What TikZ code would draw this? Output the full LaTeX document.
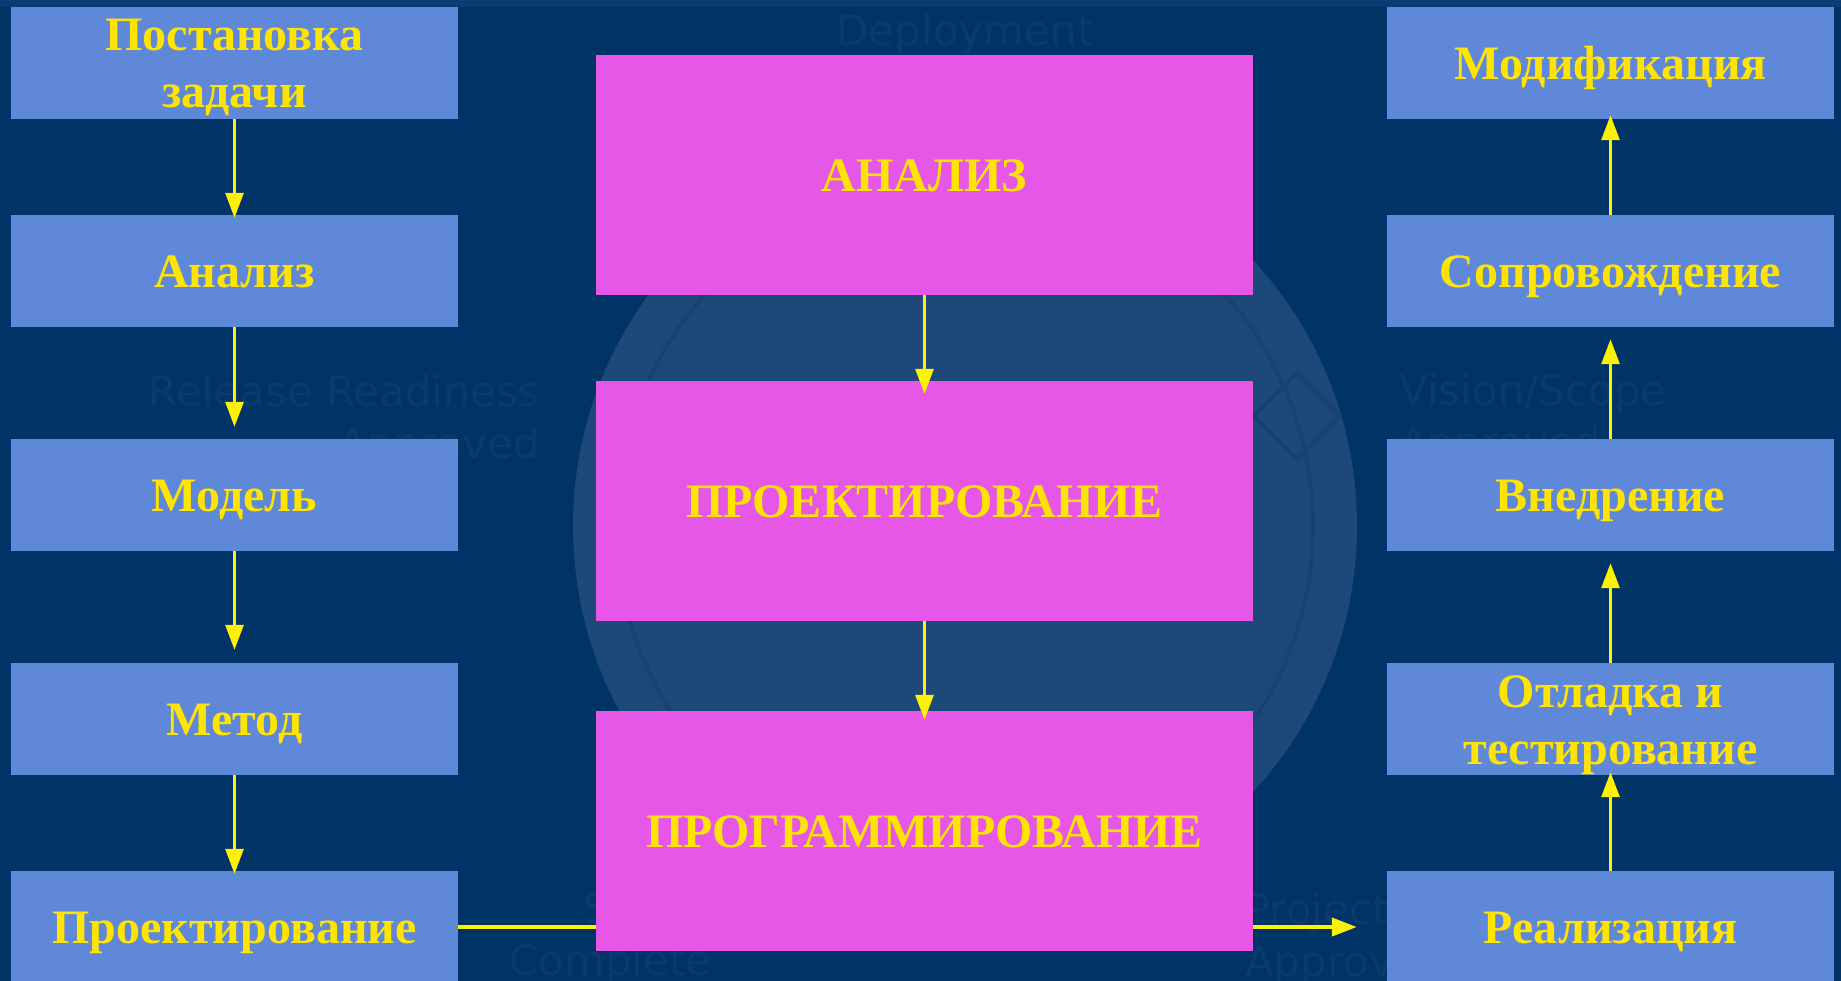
\documentclass[tikz,border=0pt]{standalone}
\usepackage{fontspec}
\setmainfont{Liberation Serif}
\newfontfamily\milestonefont{DejaVu Sans}
\usetikzlibrary{arrows.meta}

\definecolor{slidebg}{RGB}{0,51,102}
\definecolor{slidetop}{RGB}{12,60,116}
\definecolor{wheelfill}{RGB}{29,72,122}
\definecolor{wheelline}{RGB}{24,66,115}
\definecolor{milestone}{RGB}{13,58,108}
\definecolor{stagefill}{RGB}{96,136,216}
\definecolor{phasefill}{RGB}{230,87,232}
\definecolor{labelyellow}{RGB}{255,228,0}

\begin{document}
\begin{tikzpicture}[x=1pt,y=-1pt,
    stage/.style={fill=stagefill,minimum width=447pt,minimum height=112pt,inner sep=0pt,
        align=center,text=labelyellow,text height=33pt,text depth=0pt,
        font=\bfseries\fontsize{48}{57}\selectfont},
    twoline/.style={text height=90pt},
    phase/.style={stage,fill=phasefill,minimum width=657pt,minimum height=240pt},
    flow/.style={-{Triangle[length=25pt,width=18pt]},yellow,line width=3pt},
    mstone/.style={text=milestone,inner sep=0pt,font=\milestonefont\fontsize{42}{52}\selectfont}]

    % slide background
    \useasboundingbox (0,0) rectangle (1841,981);
    \fill [slidebg] (0,0) rectangle (1841,981);
    \fill [slidetop] (0,0) rectangle (1841,7);

    % faded process wheel behind the phases
    \fill [wheelfill] (965,526) circle [radius=392];
    \draw [wheelline,line width=4pt] (965,526) circle [radius=348];
    \draw [wheelline,line width=4pt] (1297,373) -- (1340,416) -- (1297,459) -- (1254,416) -- cycle;

    % milestone captions of the wheel
    \node [mstone,anchor=base] (mdeploy) at (965,46) {Deployment};
    \node [mstone,align=right,anchor=north east] (mrelease) at (540,374) {Release Readiness\\Approved};
    \node [mstone,align=left,anchor=north west] (mvision) at (1399,373) {Vision/Scope\\Approved};
    \node [mstone,align=right,anchor=north east] (mscope) at (712,892) {Scope\\Complete};
    \node [mstone,align=left,anchor=north west] (mplan) at (1245,892) {Project Plan\\Approved};

    % left column
    \node [stage,twoline] (post) at (234.5,63) {Постановка\\задачи};
    \node [stage] (anal) at (234.5,271) {Анализ};
    \node [stage] (model) at (234.5,495) {Модель};
    \node [stage] (method) at (234.5,719) {Метод};
    \node [stage] (design) at (234.5,927) {Проектирование};

    % right column
    \node [stage] (modif) at (1610.5,63) {Модификация};
    \node [stage] (support) at (1610.5,271) {Сопровождение};
    \node [stage] (deploy) at (1610.5,495) {Внедрение};
    \node [stage,twoline] (debug) at (1610.5,719) {Отладка и\\тестирование};
    \node [stage] (implement) at (1610.5,927) {Реализация};

    % link across the bottom, runs under the middle box
    \draw [flow,line width=4pt,shorten >=30pt] (design) -- (implement);

    % middle phases
    \node [phase] (analysis) at (924.5,175) {АНАЛИЗ};
    \node [phase] (designing) at (924.5,501) {ПРОЕКТИРОВАНИЕ};
    \node [phase] (coding) at (924.5,831) {ПРОГРАММИРОВАНИЕ};

    % arrows down the left, up the right and through the middle
    \foreach \from/\to/\gap in {post/anal/-3,anal/model/12,model/method/13,method/design/-3,
        implement/debug/-3,debug/deploy/12,deploy/support/12,support/modif/-4,
        analysis/designing/-13,designing/coding/-9}
        \draw [flow,shorten >=\gap pt] (\from) -- (\to);
\end{tikzpicture}
\end{document}
